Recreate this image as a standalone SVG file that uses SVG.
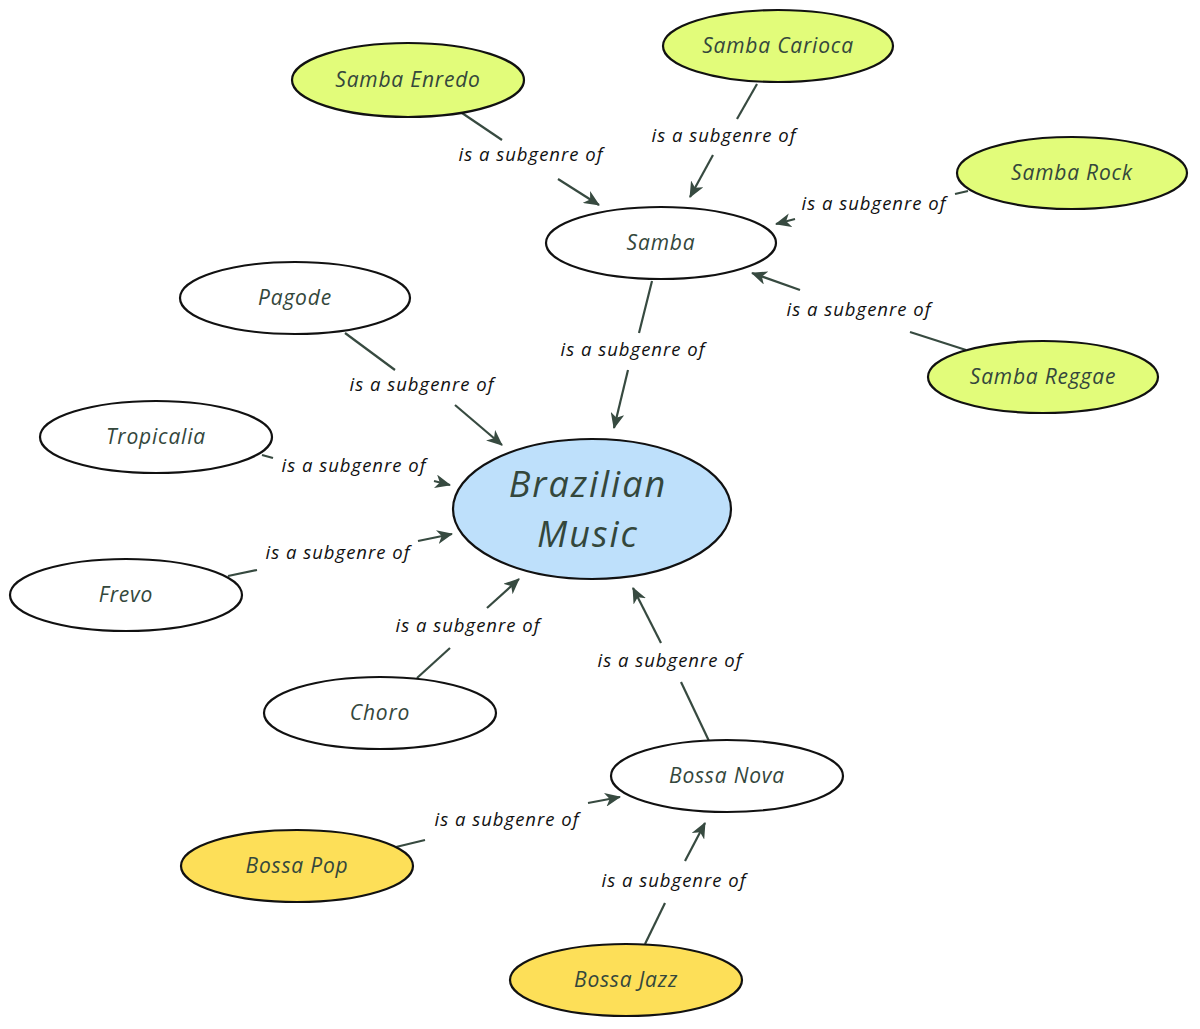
<svg xmlns="http://www.w3.org/2000/svg" width="1200" height="1029" viewBox="0 0 1200 1029">
<style>
.n{stroke:#111;stroke-width:2.2}
.w{fill:#fff}.g{fill:#e2fc7a}.y{fill:#fddf58}.b{fill:#bee0fb}
.t{font-family:"Open Sans","DejaVu Sans",sans-serif;font-style:italic;font-size:21px;fill:#34473c;text-anchor:middle;letter-spacing:0.8px}
.big{font-size:36px;letter-spacing:2px}
.c{stroke:#374a40;stroke-width:2.2;fill:none}
.l{font-family:"Open Sans","DejaVu Sans",sans-serif;font-style:italic;font-size:18.5px;fill:#111;text-anchor:middle;letter-spacing:1px}
</style>
<defs>
<marker id="a" viewBox="0 0 16 14" refX="15" refY="7" markerWidth="16" markerHeight="14" markerUnits="userSpaceOnUse" orient="auto">
<path d="M0,0 L16,7 L0,14 L4.5,7 z" fill="#374a40"/>
</marker>
</defs>
<g id="connectors">
<line class="c" x1="462" y1="113" x2="502" y2="140"/><line class="c" x1="558" y1="179" x2="599" y2="205" marker-end="url(#a)"/>
<text class="l" x="531" y="161">is a subgenre of</text>
<line class="c" x1="757" y1="84" x2="737" y2="119"/><line class="c" x1="713" y1="155" x2="690" y2="197" marker-end="url(#a)"/>
<text class="l" x="724" y="142">is a subgenre of</text>
<line class="c" x1="968" y1="191" x2="955" y2="194"/><line class="c" x1="795" y1="219" x2="776" y2="224" marker-end="url(#a)"/>
<text class="l" x="874" y="210">is a subgenre of</text>
<line class="c" x1="966" y1="350" x2="910" y2="332"/><line class="c" x1="800" y1="290" x2="752" y2="273" marker-end="url(#a)"/>
<text class="l" x="859" y="316">is a subgenre of</text>
<line class="c" x1="652" y1="281" x2="639" y2="333"/><line class="c" x1="628" y1="370" x2="614" y2="428" marker-end="url(#a)"/>
<text class="l" x="633" y="356">is a subgenre of</text>
<line class="c" x1="345" y1="333" x2="395" y2="370"/><line class="c" x1="455" y1="405" x2="502" y2="445" marker-end="url(#a)"/>
<text class="l" x="422" y="391">is a subgenre of</text>
<line class="c" x1="262" y1="455" x2="273" y2="458"/><line class="c" x1="434" y1="481" x2="450" y2="485" marker-end="url(#a)"/>
<text class="l" x="354" y="472">is a subgenre of</text>
<line class="c" x1="228" y1="576" x2="257" y2="570"/><line class="c" x1="418" y1="541" x2="452" y2="534" marker-end="url(#a)"/>
<text class="l" x="338" y="559">is a subgenre of</text>
<line class="c" x1="417" y1="678" x2="450" y2="648"/><line class="c" x1="487" y1="608" x2="519" y2="579" marker-end="url(#a)"/>
<text class="l" x="468" y="632">is a subgenre of</text>
<line class="c" x1="709" y1="741" x2="681" y2="682"/><line class="c" x1="661" y1="643" x2="633" y2="588" marker-end="url(#a)"/>
<text class="l" x="670" y="667">is a subgenre of</text>
<line class="c" x1="396" y1="847" x2="425" y2="840"/><line class="c" x1="588" y1="803" x2="620" y2="797" marker-end="url(#a)"/>
<text class="l" x="507" y="826">is a subgenre of</text>
<line class="c" x1="645" y1="944" x2="665" y2="903"/><line class="c" x1="685" y1="861" x2="705" y2="823" marker-end="url(#a)"/>
<text class="l" x="674" y="887">is a subgenre of</text>
</g>
<g id="brazilian-music"><ellipse class="n b" cx="592" cy="509" rx="139" ry="70"/><text class="t big" x="588" y="497">Brazilian</text><text class="t big" x="588" y="547">Music</text></g>
<g id="samba"><ellipse class="n w" cx="661" cy="243" rx="115" ry="36"/><text class="t" x="661" y="250">Samba</text></g>
<g id="samba-enredo"><ellipse class="n g" cx="408" cy="80" rx="116" ry="37"/><text class="t" x="408" y="87">Samba Enredo</text></g>
<g id="samba-carioca"><ellipse class="n g" cx="778" cy="46" rx="115" ry="36"/><text class="t" x="778" y="53">Samba Carioca</text></g>
<g id="samba-rock"><ellipse class="n g" cx="1072" cy="173" rx="115" ry="36"/><text class="t" x="1072" y="180">Samba Rock</text></g>
<g id="samba-reggae"><ellipse class="n g" cx="1043" cy="377" rx="115" ry="36"/><text class="t" x="1043" y="384">Samba Reggae</text></g>
<g id="pagode"><ellipse class="n w" cx="295" cy="298" rx="115" ry="36"/><text class="t" x="295" y="305">Pagode</text></g>
<g id="tropicalia"><ellipse class="n w" cx="156" cy="437" rx="116" ry="36"/><text class="t" x="156" y="444">Tropicalia</text></g>
<g id="frevo"><ellipse class="n w" cx="126" cy="595" rx="116" ry="36"/><text class="t" x="126" y="602">Frevo</text></g>
<g id="choro"><ellipse class="n w" cx="380" cy="713" rx="116" ry="36"/><text class="t" x="380" y="720">Choro</text></g>
<g id="bossa-nova"><ellipse class="n w" cx="727" cy="776" rx="116" ry="36"/><text class="t" x="727" y="783">Bossa Nova</text></g>
<g id="bossa-pop"><ellipse class="n y" cx="297" cy="866" rx="116" ry="36"/><text class="t" x="297" y="873">Bossa Pop</text></g>
<g id="bossa-jazz"><ellipse class="n y" cx="626" cy="980" rx="116" ry="36"/><text class="t" x="626" y="987">Bossa Jazz</text></g>
</svg>
